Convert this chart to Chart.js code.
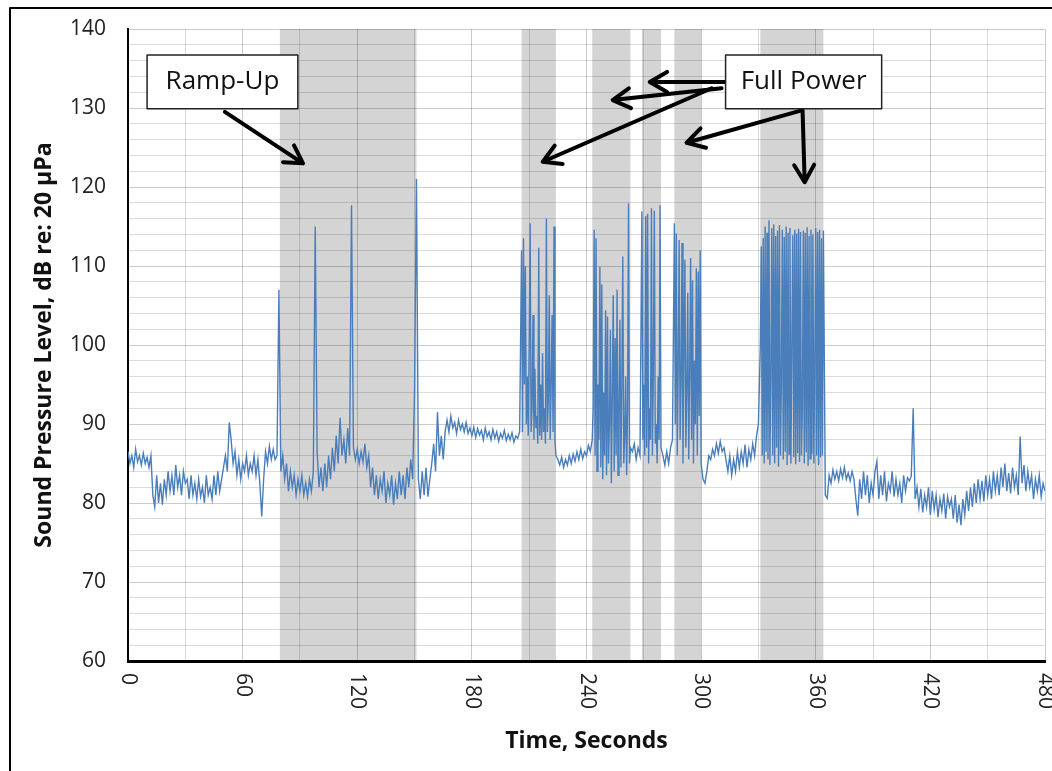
<!DOCTYPE html>
<html>
<head>
<meta charset="utf-8">
<script src="https://cdn.jsdelivr.net/npm/chart.js@4"></script>
<style>
  html, body { margin: 0; padding: 0; background: #fff; }
  #wrap { width: 1052px; height: 771px; position: relative; }
</style>
</head>
<body>
<div id="wrap"><canvas id="spl"></canvas></div>
<script>
// sound pressure level readings (dB re 20 µPa)
// each block: start time (s), sample step (s), values
const quietA = [86.5, 85, 86, 84.5, 86.8, 85.2, 86, 84.8, 86.3, 85, 85.8, 84.5, 86,
  81, 79.5, 83.5, 80, 82.5, 79.8, 83, 81, 84, 81.5, 83.5, 81, 84.8, 82, 83.5, 81, 84, 82.5, 83, 80.5,
  83.5, 81, 82.5, 80.5, 83, 80.8, 82, 80, 83.5, 81, 82, 80.5, 83.5, 81, 84, 81.5, 83, 84.5,
  86, 84, 90.2, 88, 85, 86.5, 83.5, 85.5, 83, 85, 84, 86, 83.5, 85, 84, 86, 83.5, 85.5, 82.5, 78.3,
  83, 86.5, 85, 87.2, 85.5, 86.8, 85.5, 86];
const rampUp = [107, 84, 86, 83, 85, 81.5, 84, 82, 83.5, 81,
  83, 81.5, 83.5, 81, 82.5, 80.8, 83, 81.5, 84, 115,
  86.5, 82, 84.5, 81.5, 85, 82, 86, 83, 87, 84,
  88.5, 85, 90.8, 86, 88, 85, 89.5, 86, 117.7, 87,
  85.5, 86.8, 85, 86.5, 85.2, 87.5, 84.5, 86, 82, 84.5,
  81, 83.5, 80.5, 83, 81.5, 84, 80, 82.5, 81, 83.5,
  79.8, 82.5, 80.5, 84, 81, 83.5, 80.5, 84.5, 82, 85.5,
  83, 94.5, 121];
const quietB = [83, 80.5, 84, 81, 84.5, 80.8, 83, 85, 87.5, 84,
  91.5, 86, 88.5, 85.5, 89, 90.5, 89, 91, 89.5, 90.2,
  88.8, 90.5, 89.3, 90, 89, 90.2, 88.8, 89.5, 88.5, 89.6,
  88.3, 89.4, 88.6, 89.2, 88, 89.5, 88.4, 89, 88, 89.3,
  88.2, 89, 87.8, 88.8, 88.2, 89.2, 87.9, 88.7, 88, 88.9,
  87.7, 88.5, 88.2, 89];
const burst1 = [112, 89, 113.5, 95, 110, 90, 96, 88.5, 100, 115.4,
  89, 92, 103.8, 88, 97, 89.5, 91, 87.5, 112.3, 88.5,
  95, 88, 99, 89, 92, 87.5, 116, 89, 93, 106.3,
  88, 95, 103.8, 89, 115, 88, 86];
const quietC = [85.5, 84.8, 85.8, 84.5, 85.5, 84.8, 86, 85, 86.2, 85.3, 86.5, 85.5, 86.8, 85.6, 86.5, 86, 87.3, 86.5];
const burst2 = [88, 92, 114.6, 86, 113.5, 84, 95, 88, 109.9, 84.5,
  107.7, 83, 94, 86, 104.4, 83.5, 103.6, 85, 90, 101.9,
  82.5, 93, 106.3, 84, 100.9, 86, 107, 83.5, 91, 103.2,
  84.5, 95, 111.2, 85, 88, 96, 83.5, 92, 117.9, 85, 87];
const quietD = [86.5, 87.5, 85.5, 87, 86];
const burst3 = [116.9, 88, 95, 86, 116.3, 87, 116.6, 85, 92, 88, 117.3, 86, 97, 117, 87.5, 90, 85, 96, 88, 117.7, 87];
const quietE = [86, 84.8, 86.5, 85, 87, 88];
const burst4 = [115.4, 90, 114.1, 86, 97, 113.3, 88, 95, 112.9, 85, 99, 110.8, 87, 94, 106.6,
  85.5, 96, 111, 88, 108.2, 85, 98, 90, 109.7, 86, 109.3, 91, 112, 85];
const quietF = [83, 82.5, 84, 86, 85.5, 86.8, 86, 87.5, 86.3, 87.8,
  86.5, 87, 85.5, 84, 86, 83.5, 85.5, 84, 86.5, 84.5,
  86.5, 85, 87.4, 84.5, 86.8, 85.5, 87.5, 86, 88.5, 90];
const burst5 = [100, 112.5, 86, 113.5, 85, 115, 86.5, 114.2, 85.5, 115.8,
  84.8, 96, 114.8, 86, 115.3, 85, 113.8, 87, 114.5, 84.6,
  115.2, 86, 95, 114.6, 85.5, 113.7, 86.5, 115, 84.8, 114.2,
  86.2, 114.8, 85, 100, 113.9, 85.8, 114.6, 84.9, 114.1, 86.3,
  114.7, 85.2, 114.3, 86, 92, 114.5, 85, 114.2, 86.4, 114.9,
  84.7, 113.8, 85.6, 114.6, 86.2, 114, 85, 98, 114.8, 86,
  114.3, 84.8, 114.6, 85.8, 113.5, 86, 114.5];
const quietG = [81, 80.6, 83.5, 82.5, 84.2, 83, 84, 82.8, 84.3, 83.2,
  84.5, 83, 83.8, 82.8, 84, 83, 80.5, 78.4, 83, 80.5,
  84, 81, 83.5, 80, 82.5, 81, 84, 85.3, 80.5, 83.5,
  81, 84, 80.2, 82.5, 81.5, 84, 80.8, 83, 81, 82.5,
  80, 83.5, 81.5, 83.2, 82.8, 83.4, 92, 80.5, 82, 79.5,
  81.8, 78.8, 81, 79.5, 82, 78.5, 81.5, 79.2, 81, 78.2,
  80.5, 79, 81.2, 78, 80.8, 79.5, 80.5, 78, 81, 77.5,
  79.8, 77.2, 80.5, 78.5, 81.5, 79, 82, 79.5, 82.5, 80,
  83, 80.5, 82.8, 80.2, 83.5, 81, 83, 80.5, 84, 81.5,
  83.5, 81, 84.5, 82, 85, 81.5, 83.8, 81.2, 84.5, 82,
  83.5, 81, 88.4, 82.5, 84.8, 81.5, 84, 82, 83.5, 80.5,
  83, 81.5, 83.5, 80.8, 82.5, 81.5];

const blocks = [
  [0, 1, quietA], [79, 1, rampUp], [152, 1, quietB], [206, 0.5, burst1],
  [225, 1, quietC], [243, 0.5, burst2], [264, 1, quietD], [269, 0.5, burst3],
  [280, 1, quietE], [286, 0.5, burst4], [301, 1, quietF], [331, 0.5, burst5],
  [365, 1, quietG]
];

// shaded operating periods (s)
const shadeStart = [79.5, 206, 243, 269, 286, 331];
const shadeEnd = [151, 224, 263, 279, 300, 364];

const xTickLabels = [0, 60, 120, 180, 240, 300, 360, 420, 480];

const points = [];
blocks.forEach(([t0, dt, vals]) => {
  vals.forEach((v, i) => points.push({ x: t0 + i * dt, y: v }));
});

const FONT = "'Open Sans', 'DejaVu Sans', sans-serif";

// callout boxes and arrows, in data units
const callouts = [
  { text: "Ramp-Up", x1: 10, x2: 88.9, y1: 136.7, y2: 129.9 },
  { text: "Full Power", x1: 312.8, x2: 394.5, y1: 136.7, y2: 129.9 }
];
const arrows = [
  [50.7, 129.5, 91.6, 123.0],
  [312.8, 133.3, 273.1, 133.3],
  [310.7, 132.5, 253.7, 131.0],
  [305.5, 132.5, 217.1, 123.2],
  [352.6, 129.7, 292.4, 125.6],
  [353.1, 129.7, 354.2, 120.6]
];

const shading = {
  id: "shading",
  beforeDraw(chart) {
    const { ctx, chartArea, scales } = chart;
    ctx.save();
    ctx.fillStyle = "#d4d4d4";
    shadeStart.forEach((s, i) => {
      const a = scales.x.getPixelForValue(s);
      const b = scales.x.getPixelForValue(shadeEnd[i]);
      ctx.fillRect(a, chartArea.top, b - a, chartArea.bottom - chartArea.top);
    });
    ctx.restore();
  }
};

function drawArrow(ctx, x1, y1, x2, y2) {
  const ang = Math.atan2(y2 - y1, x2 - x1);
  const head = 20, spread = Math.PI / 6;
  ctx.beginPath();
  ctx.moveTo(x1, y1);
  ctx.lineTo(x2, y2);
  ctx.moveTo(x2 - head * Math.cos(ang - spread), y2 - head * Math.sin(ang - spread));
  ctx.lineTo(x2, y2);
  ctx.lineTo(x2 - head * Math.cos(ang + spread), y2 - head * Math.sin(ang + spread));
  ctx.stroke();
}

const overlay = {
  id: "overlay",
  afterDraw(chart) {
    const { ctx, scales } = chart;
    const X = v => scales.x.getPixelForValue(v);
    const Y = v => scales.y.getPixelForValue(v);
    ctx.save();

    // rotated x tick labels
    ctx.fillStyle = "#222";
    ctx.font = "21px " + FONT;
    ctx.textAlign = "left";
    ctx.textBaseline = "middle";
    xTickLabels.forEach(t => {
      ctx.save();
      ctx.translate(X(t), scales.y.bottom + 12);
      ctx.rotate(Math.PI / 2);
      ctx.fillText(String(t), 0, 0);
      ctx.restore();
    });

    // arrows
    ctx.strokeStyle = "#000";
    ctx.lineWidth = 4;
    ctx.lineCap = "round";
    ctx.lineJoin = "round";
    arrows.forEach(a => drawArrow(ctx, X(a[0]), Y(a[1]), X(a[2]), Y(a[3])));

    // callout boxes
    callouts.forEach(c => {
      const l = X(c.x1), r = X(c.x2), t = Y(c.y1), b = Y(c.y2);
      ctx.fillStyle = "#fff";
      ctx.fillRect(l, t, r - l, b - t);
      ctx.lineWidth = 1.5;
      ctx.strokeStyle = "#222";
      ctx.strokeRect(l, t, r - l, b - t);
      ctx.fillStyle = "#111";
      ctx.font = "26px " + FONT;
      ctx.textAlign = "center";
      ctx.textBaseline = "middle";
      ctx.fillText(c.text, (l + r) / 2, (t + b) / 2);
    });

    // outer frame
    ctx.strokeStyle = "#000";
    ctx.lineWidth = 2;
    ctx.lineCap = "butt";
    ctx.beginPath();
    ctx.moveTo(10, 771);
    ctx.lineTo(10, 8);
    ctx.lineTo(1052, 8);
    ctx.stroke();
    ctx.restore();
  }
};

new Chart(document.getElementById("spl"), {
  type: "line",
  data: {
    datasets: [{
      data: points,
      borderColor: "#4a7ebb",
      borderWidth: 1.4,
      pointRadius: 0,
      tension: 0,
      fill: false
    }]
  },
  options: {
    responsive: true,
    maintainAspectRatio: false,
    animation: false,
    layout: { padding: { top: 29, right: 7, left: 0, bottom: 0 } },
    plugins: { legend: { display: false }, tooltip: { enabled: false } },
    scales: {
      x: {
        type: "linear",
        min: 0, max: 480,
        afterFit(s) { s.height = 110; },
        ticks: { stepSize: 30, display: false },
        grid: { drawTicks: false, color: ctx => (ctx.tick && ctx.tick.value % 60 === 0) ? "rgba(0,0,0,0.2)" : "rgba(0,0,0,0.14)" },
        border: { color: "#000", width: 3 },
        title: {
          display: true, text: "Time, Seconds", color: "#111",
          font: { family: FONT, size: 23, weight: "bold" },
          padding: { top: 0, bottom: 16 }
        }
      },
      y: {
        min: 60, max: 140,
        afterFit(s) { s.width = 128; s.paddingTop = 0; s.paddingBottom = 0; },
        ticks: {
          stepSize: 2, autoSkip: false, padding: 22, color: "#222",
          font: { family: FONT, size: 21 },
          callback: v => (v % 10 === 0 ? v : "")
        },
        grid: { drawTicks: false, color: ctx => (ctx.tick && ctx.tick.value % 10 === 0) ? "rgba(0,0,0,0.2)" : "rgba(0,0,0,0.14)" },
        border: { color: "#000", width: 2 },
        title: {
          display: true, text: "Sound Pressure Level, dB re: 20 μPa", color: "#111",
          font: { family: FONT, size: 23, weight: "bold" },
          padding: { top: 31, bottom: 0 }
        }
      }
    }
  },
  plugins: [shading, overlay]
});
</script>
</body>
</html>
